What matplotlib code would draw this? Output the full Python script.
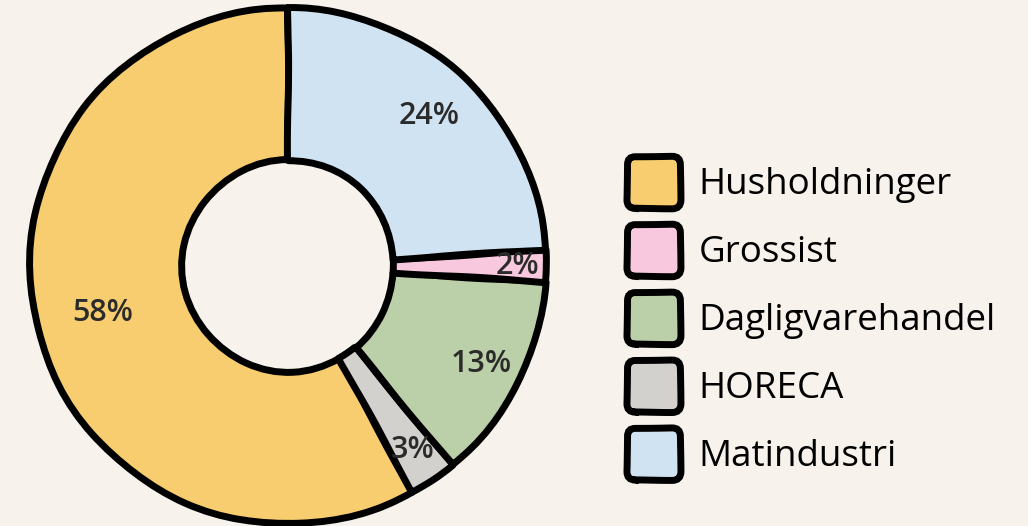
import numpy as np
import matplotlib.pyplot as plt
from matplotlib.patches import FancyBboxPatch
from matplotlib.legend_handler import HandlerPatch

# data (drawn counter-clockwise from 12 o'clock)
categories = ["Husholdninger", "HORECA", "Dagligvarehandel", "Grossist", "Matindustri"]
shares = [58, 3, 13, 2, 24]
colors = ["#F8CD6F", "#D3D1CD", "#BBCFA8", "#F8C8DF", "#D0E3F2"]
legend_order = ["Husholdninger", "Grossist", "Dagligvarehandel", "HORECA", "Matindustri"]

bg = "#F7F2EC"
label_r = [0.74, 0.86, 0.84, 0.89, 0.8]   # how far out each % label sits


def rounded_box(legend, orig_handle, xdescent, ydescent, width, height, fontsize):
    return FancyBboxPatch((-xdescent, -ydescent), width, height,
                          boxstyle="round,pad=0,rounding_size=6")


fig = plt.figure(figsize=(10.28, 5.26), dpi=100)
fig.patch.set_facecolor(bg)

ax = fig.add_axes([(288 - 258) / 1028, (526 - 266 - 258) / 526, 516 / 1028, 516 / 526])
ax.set_facecolor(bg)

wedges, texts, autotexts = ax.pie(
    shares, colors=colors, startangle=90, counterclock=True,
    autopct=lambda p: "%d%%" % round(p), pctdistance=0.8,
    wedgeprops=dict(width=0.59, edgecolor="black", linewidth=5),
    textprops=dict(fontsize=22, color="#2B2B2B", family="Open Sans", fontweight="semibold"),
)
for w, t, r in zip(wedges, autotexts, label_r):
    w.set_joinstyle("round")
    w.set_sketch_params(scale=0.6, length=180, randomness=2)
    a = np.deg2rad((w.theta1 + w.theta2) / 2)
    t.set_position((r * np.cos(a), r * np.sin(a)))

ax.set_xlim(-1.0, 1.0)
ax.set_ylim(-1.0, 1.0)
ax.axis("off")

handles = [wedges[categories.index(n)] for n in legend_order]
leg = fig.legend(handles, legend_order, loc="center left",
                 bbox_to_anchor=(627 / 1028, 1 - 318 / 526),
                 frameon=False, borderpad=0, borderaxespad=0,
                 handlelength=1.45, handleheight=1.8, handletextpad=0.5,
                 labelspacing=0.43,
                 prop=dict(family="Open Sans", size=26.5),
                 handler_map={w: HandlerPatch(patch_func=rounded_box) for w in wedges})
for t in leg.get_texts():
    t.set_color("black")

fig.savefig("out.png", dpi=100, facecolor=bg)
